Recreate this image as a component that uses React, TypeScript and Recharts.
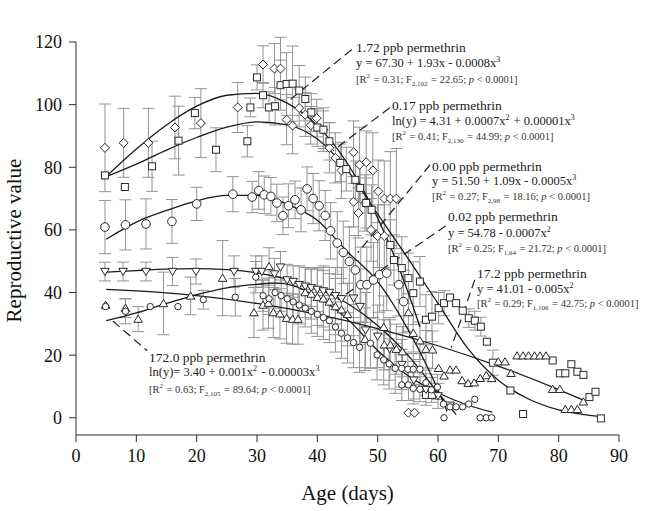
import { ComposedChart, Scatter, Line, XAxis, YAxis, ErrorBar, ReferenceLine } from 'recharts'

type Pt = [number, number, number]
type Cv = [number, number]

const xTicks = [0, 10, 20, 30, 40, 50, 60, 70, 80, 90]
const yTicks = [0, 20, 40, 60, 80, 100, 120]

// [age, reproductive value, error]
const pts172: Pt[] = [
  [4.8, 86.2, 14], [7.9, 87.8, 11], [12, 87.8, 11], [16.4, 92.7, 10], [20.7, 94.1, 11], [26.8, 99.1, 8],
  [31, 112.8, 6], [32.9, 111.5, 8], [33.9, 111.5, 10], [34.9, 95.2, 8], [35.9, 93.3, 9], [37, 98.9, 6],
  [38, 96.8, 7], [38.9, 93.4, 6], [39.9, 95.7, 6], [41, 92, 7], [42, 86.2, 8], [43, 83, 8], [44, 79, 9],
  [46, 84.8, 10], [47, 80.8, 12], [48.1, 81.6, 10], [49.2, 79, 12], [50.1, 72.3, 10], [51.1, 70, 12],
  [52.1, 70, 15], [53.1, 70, 16], [46, 69, 8], [46.8, 65.4, 8], [47.9, 68.6, 9], [48.9, 60, 10],
  [50, 58, 10], [51.1, 58, 10], [55.1, 1.6, 0], [56.1, 1.6, 0],
]
const pts017: Pt[] = [
  [4.8, 77.4, 0], [8.1, 73.7, 0], [12.6, 80.3, 8], [17, 88.5, 11], [19.7, 97.3, 5], [23.2, 85.6, 7],
  [28.4, 88.3, 5], [28.9, 99.1, 3], [30, 108.7, 4], [31, 103, 4], [32, 99.1, 5], [33, 99.5, 6],
  [33.9, 106.2, 8], [34.9, 106.6, 10], [35.9, 106.7, 12], [37, 104.5, 8], [38, 101.8, 7], [39, 97.5, 6],
  [40, 92.7, 6], [41, 92, 6], [42, 88.3, 6], [43.8, 81.4, 6], [44.8, 79.4, 7], [46.3, 76, 6],
  [47.1, 73.4, 8], [48.1, 68.6, 8], [49, 66.4, 8], [52.1, 55.2, 8], [52.7, 50.4, 8], [54, 47.8, 10],
  [55.1, 44.6, 8], [55.9, 39.8, 10], [57, 43.5, 8], [58, 31.3, 8], [59, 32.3, 8], [60.1, 35, 5],
  [61, 36.6, 4], [62, 38.4, 0], [63, 36.6, 0], [64.1, 34.2, 0], [65.1, 31.8, 3], [66.1, 31, 3],
  [67.1, 29.1, 3], [68.1, 24.3, 0], [69.1, 17.6, 4], [72, 8.7, 0], [74.1, 1.2, 0], [79, 18.3, 0],
  [80.2, 14.2, 0], [81.1, 14.2, 0], [82.1, 17.1, 0], [83.1, 14.7, 0], [84.1, 13.7, 0], [85.1, 6.6, 0],
  [86.1, 8.3, 0], [87, -0.2, 0], [58, 7.3, 0], [59, 7.3, 0],
]
const pts000: Pt[] = [
  [4.8, 60.9, 8.5], [8.2, 61.6, 8], [11.6, 61.9, 8], [15.9, 62.7, 7], [20, 68.3, 5.3], [26, 71.4, 5.6],
  [29.2, 70.5, 5], [30.3, 72.6, 6], [31.2, 71.2, 6], [32.3, 70.7, 6], [33.3, 68.6, 6], [34.3, 64.5, 6],
  [35.2, 67.7, 7], [36.3, 69.6, 6], [37.3, 66.4, 7], [38.3, 73.1, 7], [39.3, 70, 8], [40.3, 67.7, 8],
  [41.3, 64.6, 8], [42.2, 59.7, 9], [43.3, 55.8, 10], [44.3, 52.8, 10], [45.3, 49.9, 11], [46.3, 47.2, 11],
  [47.2, 42.5, 12], [48.2, 42.5, 12], [49.3, 44, 12], [50.3, 45.7, 12], [51.5, 46.2, 12], [53.5, 42.5, 10],
  [54.3, 37.1, 10],
]
const pts002: Pt[] = [
  [4.8, 46.7, 3], [7.8, 46.7, 3], [11.6, 46.7, 3], [16, 46.7, 4.5], [19.9, 46.7, 4], [26.2, 46.7, 5],
  [29.8, 46.7, 5], [30.8, 46.7, 5], [32.9, 45.9, 5], [33.9, 48.1, 5], [35, 44, 5], [36, 43.5, 5],
  [37, 42.5, 6], [38, 42, 6], [39, 41.5, 6], [40, 41, 7], [41, 40.5, 8], [42, 40, 8], [43, 39, 9],
  [44, 38, 10], [46, 38.2, 12], [47.1, 35.5, 12], [48, 28, 12], [50, 26, 10], [52, 22, 10], [54, 17, 8],
  [56, 12, 6], [58, 9, 5], [60, 7, 4], [62, 4, 0],
]
const pts17: Pt[] = [
  [4.9, 36, 0], [8.2, 35, 3], [10.3, 31.5, 4], [14.5, 36.5, 10], [19, 38.9, 6], [24.3, 44.6, 12],
  [29.5, 33.6, 8], [31, 36, 8], [31.9, 36.6, 8], [32, 48.3, 6], [32.7, 33.6, 8], [33.8, 33.2, 8],
  [34.9, 31.8, 8], [35.9, 31.5, 8], [36.8, 31.5, 8], [38, 40, 8], [39, 39.5, 8], [40, 38.5, 9],
  [41, 38, 9], [42, 37, 9], [43, 35.5, 9], [44, 34.5, 10], [45, 33, 10], [47.9, 25.1, 10], [51, 28.9, 10],
  [51.1, 23.3, 8], [52.1, 23.3, 8], [53.1, 21.9, 8], [54.1, 21.1, 8], [55.1, 33.6, 6], [55.9, 27, 6],
  [57, 24.6, 6], [58, 21.9, 6], [59.1, 21.7, 6], [60.1, 15.8, 0], [61, 13.4, 0], [62, 15.3, 0],
  [63, 15.3, 0], [64, 11.9, 0], [65, 11, 0], [66, 11.2, 0], [67, 12.6, 0], [68, 13.5, 0], [68.9, 12.6, 0],
  [70, 17.9, 0], [71.1, 17.9, 0], [72.1, 14.2, 0], [73.1, 19.8, 0], [74.1, 19.8, 0], [75, 19.8, 0],
  [76, 19.8, 0], [76.9, 19.8, 0], [77.9, 19.8, 0], [79, 9.1, 0], [80.2, 9.1, 0], [81.1, 2.7, 0],
  [82.1, 2.7, 0], [83.1, 2.7, 0], [84.1, 5.1, 0],
]
const pts1720: Pt[] = [
  [4.9, 35.5, 0], [8.2, 34, 4], [12.3, 35.5, 0], [16.9, 35.5, 0], [21.1, 37.7, 3], [26.4, 38.5, 6],
  [29.8, 44.9, 5], [31, 39, 5], [32, 38, 5], [33, 40, 5], [34, 39, 5], [35, 38, 6], [36, 37, 6],
  [37, 36, 6], [38, 35, 6], [39, 34, 7], [40, 33, 7], [41, 32, 7], [42, 31, 7], [43, 29, 8], [44, 27, 8],
  [45, 25.5, 8], [46, 24, 8], [47, 22.5, 8], [48.8, 23.8, 8], [49.9, 20.1, 8], [51, 18.5, 8],
  [51.9, 17.2, 8], [52.9, 15.8, 8], [54, 15.8, 6], [55, 15.5, 5], [55.9, 15.5, 5], [57, 15.5, 5],
  [54, 10.5, 5], [55.1, 10.5, 5], [55.9, 9.4, 5], [57, 9.1, 4], [58, 11.2, 4], [58.9, 8.9, 4],
  [59.9, 9.8, 4], [60.9, 4.4, 0], [62, 3.5, 0], [63, 3.5, 0], [64.1, 3.5, 0], [65.1, 4.4, 0],
  [66.1, 5.9, 0], [61, 0, 0], [67, 0, 0], [68, 0, 0], [68.9, 0, 0],
]

// fitted curves
const fit172: Cv[] = [[5, 77], [10, 85.8], [15, 93.5], [20, 99.5], [25, 103], [30, 103.6], [35, 100.5], [40, 93.3], [45, 81.2], [50, 63.8], [55, 40.3], [57, 29]]
const fit017: Cv[] = [[5, 77], [10, 81], [15, 85.5], [20, 89.5], [25, 92.8], [30, 94.5], [35, 93.5], [40, 89], [45, 79], [50, 65], [55, 51], [60, 36.5], [65, 22], [70, 12], [75, 6], [80, 2.5], [87, 0.4]]
const fit000: Cv[] = [[5, 57], [10, 62.5], [15, 66.2], [20, 69.3], [25, 71], [30, 71], [35, 68.2], [40, 63.1], [45, 53], [50, 43.5], [55, 28.3], [58, 17.2], [60, 8.9], [61.5, 2]]
const fit002: Cv[] = [[5, 46.5], [10, 47], [15, 47.5], [20, 47.6], [25, 47.3], [30, 46.3], [35, 44.3], [40, 41.2], [45, 36.5], [50, 29.5], [55, 20], [60, 8], [63, 1]]
const fit17: Cv[] = [[5, 41], [10, 40.5], [20, 39], [30, 36.5], [40, 33], [50, 28.5], [60, 23], [70, 16.5], [80, 9], [84, 5.7]]
const fit1720: Cv[] = [[5, 31], [10, 33.5], [15, 36.5], [20, 39.3], [25, 41.5], [30, 42.6], [33, 43], [36, 42.2], [40, 38.5], [45, 31.5], [50, 21.5], [55, 13.5], [60, 8], [65, 4], [69, 1.8]]

// leader lines [x1, y1, x2, y2] in data units
const leaders: [number, number, number, number][] = [
  [45.7, 117.6, 35.5, 101.6],
  [52.0, 99.0, 42.6, 85.3],
  [58.7, 80.8, 46.7, 52.7],
  [61.3, 61.3, 43.4, 37.7],
  [66.1, 44.1, 62.2, 22.4],
  [6.1, 30.9, 11.8, 21.4],
]

const FONT = '"Liberation Serif", "Times New Roman", serif'
const INK = '#2a2a2a'

const rows = (p: Pt[]) => p.map(([x, y, e]) => ({ x, y, e }))
const curve = (c: Cv[]) => c.map(([x, y]) => ({ x, y }))

const marker = (kind: string) => (props: any) => {
  const { cx, cy } = props
  if (cx == null || cy == null) return <g />
  const st = { fill: '#fff', stroke: INK, strokeWidth: 1 }
  if (kind === 'diamond') return <path d={`M${cx},${cy - 4.5}L${cx + 4.5},${cy}L${cx},${cy + 4.5}L${cx - 4.5},${cy}Z`} {...st} />
  if (kind === 'square') return <rect x={cx - 3.5} y={cy - 3.5} width={7} height={7} {...st} />
  if (kind === 'circle') return <circle cx={cx} cy={cy} r={4.3} {...st} />
  if (kind === 'small') return <circle cx={cx} cy={cy} r={3.2} {...st} />
  if (kind === 'down') return <path d={`M${cx - 4.3},${cy - 3.2}L${cx + 4.3},${cy - 3.2}L${cx},${cy + 4}Z`} {...st} />
  return <path d={`M${cx - 4.3},${cy + 3.2}L${cx + 4.3},${cy + 3.2}L${cx},${cy - 4}Z`} {...st} />
}
const none = () => <g />

const groups = [
  { name: '1.72', pts: pts172, kind: 'diamond' },
  { name: '0.17', pts: pts017, kind: 'square' },
  { name: '0.00', pts: pts000, kind: 'circle' },
  { name: '0.02', pts: pts002, kind: 'down' },
  { name: '17.2', pts: pts17, kind: 'up' },
  { name: '172.0', pts: pts1720, kind: 'small' },
]
const fits = [fit172, fit017, fit000, fit002, fit17, fit1720]

const Sup = ({ t, s = 8 }: { t: string; s?: number }) => (
  <>
    <tspan dy={-5} fontSize={s}>{t}</tspan>
    <tspan dy={5}>{'\u200a'}</tspan>
  </>
)
const Sub = ({ t, s = 8 }: { t: string; s?: number }) => (
  <>
    <tspan dy={3} fontSize={s}>{t}</tspan>
    <tspan dy={-3}>{'\u200a'}</tspan>
  </>
)

const Stats = ({ x, y, r2, df, f }: { x: number; y: number; r2: string; df: string; f: string }) => (
  <text x={x} y={y} fontSize={10.5} fill="#333" fontFamily={FONT}>
    [R<Sup t="2" s={7} /> = {r2}; F<Sub t={df} s={7} /> = {f}; <tspan fontStyle="italic">p</tspan> {'<'} 0.0001]
  </text>
)

const Annotations = () => (
  <svg width={645} height={511} style={{ position: 'absolute', left: 0, top: 0, pointerEvents: 'none' }} fontFamily={FONT}>
    <g fill="#222">
      <text x={356} y={52} fontSize={13.5}>1.72 ppb permethrin</text>
      <text x={356} y={67} fontSize={12.5}>y = 67.30 + 1.93x - 0.0008x<Sup t="3" /></text>
      <Stats x={356} y={83} r2="0.31" df="2,102" f="22.65" />

      <text x={392} y={110} fontSize={13.5}>0.17 ppb permethrin</text>
      <text x={392} y={125} fontSize={12.5}>ln(y) = 4.31 + 0.0007x<Sup t="2" /> + 0.00001x<Sup t="3" /></text>
      <Stats x={392} y={140} r2="0.41" df="2,130" f="44.99" />

      <text x={432} y={171} fontSize={13.5}>0.00 ppb permethrin</text>
      <text x={432} y={185} fontSize={12.5}>y = 51.50 + 1.09x - 0.0005x<Sup t="3" /></text>
      <Stats x={432} y={200} r2="0.27" df="2,98" f="18.16" />

      <text x={448} y={221} fontSize={13.5}>0.02 ppb permethrin</text>
      <text x={448} y={237} fontSize={12.5}>y = 54.78 - 0.0007x<Sup t="2" /></text>
      <Stats x={448} y={252} r2="0.25" df="1,64" f="21.72" />

      <text x={477} y={278} fontSize={13.5}>17.2 ppb permethrin</text>
      <text x={477} y={293} fontSize={12.5}>y = 41.01 - 0.005x<Sup t="2" /></text>
      <Stats x={477} y={307} r2="0.29" df="1,106" f="42.75" />

      <text x={149} y={362} fontSize={13.5}>172.0 ppb permethrin</text>
      <text x={149} y={376} fontSize={12.5}>ln(y)= 3.40 + 0.001x<Sup t="2" /> - 0.00003x<Sup t="3" /></text>
      <Stats x={149} y={393} r2="0.63" df="2,105" f="89.64" />
    </g>
  </svg>
)

const YTitle = (props: any) => {
  const { viewBox } = props
  const cx = 21
  const cy = viewBox.y + viewBox.height / 2 + 2
  return (
    <text x={cx} y={cy} transform={`rotate(-90 ${cx} ${cy})`} textAnchor="middle" fontSize={21} fontFamily={FONT} fill="#111">
      Reproductive value
    </text>
  )
}
const XTitle = (props: any) => {
  const { viewBox } = props
  return (
    <text x={viewBox.x + viewBox.width / 2} y={500} textAnchor="middle" fontSize={21} fontFamily={FONT} fill="#111">
      Age (days)
    </text>
  )
}

export default function App() {
  const tick = { fill: '#111', fontSize: 18, fontFamily: FONT }
  return (
    <div style={{ position: 'absolute', left: 0, top: 0, width: 645, height: 511, background: '#fff' }}>
      <ComposedChart width={645} height={511} margin={{ top: 42, right: 26, bottom: 0, left: 0 }}>
        <XAxis
          type="number"
          dataKey="x"
          domain={[0, 90]}
          ticks={xTicks}
          allowDataOverflow
          height={76}
          tick={tick}
          tickSize={7}
          tickMargin={7}
          stroke={INK}
          label={<XTitle />}
        />
        <YAxis
          type="number"
          dataKey="y"
          domain={[-5.5, 120]}
          ticks={yTicks}
          allowDataOverflow
          width={76}
          tick={tick}
          tickSize={7}
          tickMargin={7}
          stroke={INK}
          label={<YTitle />}
        />
        {groups.map((g) => (
          <Scatter key={`e${g.name}`} data={rows(g.pts).filter((r) => r.e > 0)} dataKey="y" shape={none} isAnimationActive={false}>
            <ErrorBar dataKey="e" direction="y" width={6} stroke="#949494" strokeWidth={1} />
          </Scatter>
        ))}
        {groups.map((g) => (
          <Scatter key={`m${g.name}`} data={rows(g.pts)} dataKey="y" shape={marker(g.kind)} isAnimationActive={false} />
        ))}
        {fits.map((f, i) => (
          <Line key={`f${i}`} data={curve(f)} dataKey="y" type="monotone" stroke="#1a1a1a" strokeWidth={1.3} dot={false} isAnimationActive={false} />
        ))}
        {leaders.map(([x1, y1, x2, y2], i) => (
          <ReferenceLine key={`l${i}`} segment={[{ x: x1, y: y1 }, { x: x2, y: y2 }]} stroke="#222" strokeWidth={1.2} strokeDasharray="9 5" />
        ))}
      </ComposedChart>
      <Annotations />
    </div>
  )
}
